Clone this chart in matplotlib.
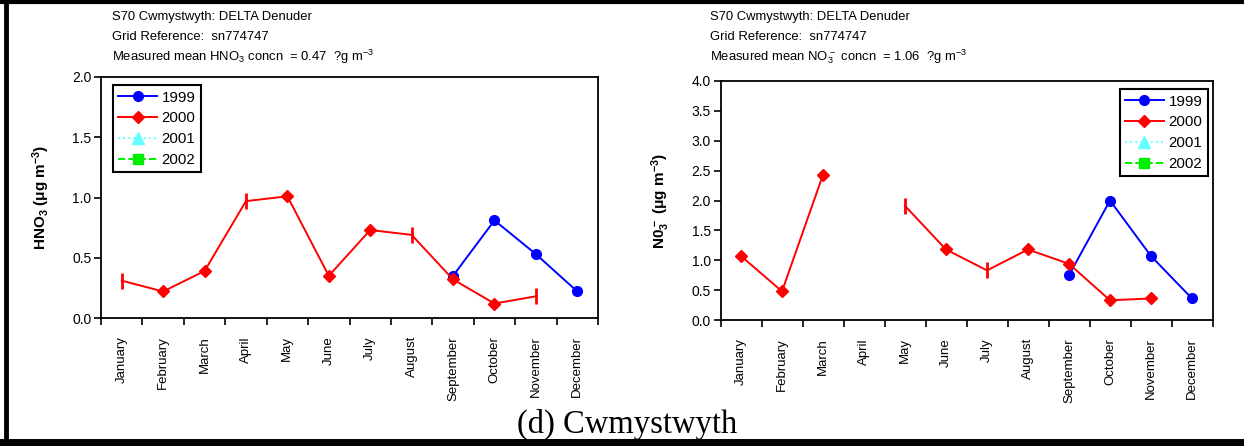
import numpy as np
import matplotlib
matplotlib.use("Agg")
import matplotlib.pyplot as plt
from matplotlib.lines import Line2D

plt.rcParams['font.family'] = ['Liberation Sans', 'DejaVu Sans']
plt.rcParams['mathtext.fontset'] = 'custom'
plt.rcParams['mathtext.rm'] = 'Liberation Sans'
plt.rcParams['mathtext.it'] = 'Liberation Sans:italic'
plt.rcParams['mathtext.bf'] = 'Liberation Sans:bold'
plt.rcParams['mathtext.default'] = 'regular'

months = ["January", "February", "March", "April", "May", "June", "July",
          "August", "September", "October", "November", "December"]
nan = np.nan
hno3_1999 = [nan, nan, nan, nan, nan, nan, nan, nan, 0.35, 0.81, 0.53, 0.22]
hno3_2000 = [0.31, 0.22, 0.39, 0.97, 1.01, 0.35, 0.73, 0.69, 0.32, 0.12, 0.18, nan]
no3_1999 = [nan, nan, nan, nan, nan, nan, nan, nan, 0.75, 2.00, 1.07, 0.36]
no3_2000 = [1.07, 0.48, 2.43, nan, 1.91, 1.18, 0.83, 1.18, 0.94, 0.33, 0.36, nan]
years = ["1999", "2000", "2001", "2002"]

# months in the 2000 series drawn with a bar-shaped symbol instead of a diamond
hno3_bar_months = ["January", "April", "August", "November"]
no3_bar_months = ["May", "July"]

fig = plt.figure(figsize=(12.44, 4.46), dpi=100)
W, H = 1244, 446

def fx(px):
    return px / W

def fy(py):
    return 1 - py / H

def make_axes(left, right, top, bottom):
    return fig.add_axes([fx(left), fy(bottom), fx(right) - fx(left), fy(top) - fy(bottom)])

def draw(ax, s1999, s2000, bar_months, ymax, ylabel, legend_loc, legend_anchor):
    x = np.arange(len(months)) + 0.5
    a1999 = np.array(s1999, float)
    a2000 = np.array(s2000, float)
    ax.plot(x, a1999, color='#0000FF', lw=1.4, marker='o', ms=7, zorder=3)
    ax.plot(x, a2000, color='#FF0000', lw=1.4, zorder=3)
    bar_idx = [months.index(m) for m in bar_months]
    dia_idx = [i for i in range(len(months)) if i not in bar_idx and not np.isnan(a2000[i])]
    ax.plot(x[dia_idx], a2000[dia_idx], ls='none', color='#FF0000', marker='D', ms=6, zorder=4)
    ax.plot(x[bar_idx], a2000[bar_idx], ls='none', color='#FF0000', marker='|', ms=11, mew=2, zorder=4)
    ax.set_xlim(0, 12)
    ax.set_ylim(0, ymax)
    ax.set_yticks(np.arange(0, ymax + 0.01, 0.5))
    ax.set_yticklabels([f"{v:.1f}" for v in np.arange(0, ymax + 0.01, 0.5)], fontsize=10)
    ax.set_xticks(np.arange(0, 13))
    ax.set_xticklabels([])
    ax.set_xticks(x, minor=True)
    ax.set_xticklabels(months, minor=True, rotation=90, fontsize=9.5, va='top')
    ax.tick_params(axis='x', which='minor', length=0, pad=13)
    ax.tick_params(axis='x', which='major', direction='out', length=5, width=1.2)
    ax.tick_params(axis='y', direction='out', length=5, width=1.2, pad=2)
    for sp in ax.spines.values():
        sp.set_linewidth(1.3)
    ax.set_ylabel(ylabel, fontsize=11, fontweight='bold', labelpad=14)
    handles = [
        Line2D([], [], color='#0000FF', lw=1.4, marker='o', ms=7),
        Line2D([], [], color='#FF0000', lw=1.4, marker='D', ms=6),
        Line2D([], [], color='#66FFFF', lw=1.4, ls=':', marker='^', ms=8),
        Line2D([], [], color='#00EE00', lw=1.4, ls='--', marker='s', ms=7),
    ]
    leg = ax.legend(handles, years, loc=legend_loc, bbox_to_anchor=legend_anchor,
                    fontsize=10.8, handlelength=2.6, handletextpad=0.3,
                    labelspacing=0.45, borderpad=0.35, fancybox=False,
                    framealpha=1, edgecolor='black', borderaxespad=0)
    leg.get_frame().set_linewidth(1.5)

ax1 = make_axes(101, 598, 77, 318)
draw(ax1, hno3_1999, hno3_2000, hno3_bar_months, 2.0,
     r"HNO$_\mathbf{3}$ (μg m$^\mathbf{-3}$)", 'upper left', (0.024, 0.965))

ax2 = make_axes(720.5, 1212.5, 81, 320)
draw(ax2, no3_1999, no3_2000, no3_bar_months, 4.0,
     r"N0$_\mathbf{3}^{\,-}$ (μg m$^\mathbf{-3}$)", 'upper right', (0.99, 0.965))

hdr_kw = dict(fontsize=9.4, ha='left', va='center')
fig.text(fx(112), fy(17), "S70 Cwmystwyth: DELTA Denuder", **hdr_kw)
fig.text(fx(112), fy(37), "Grid Reference:  sn774747", **hdr_kw)
fig.text(fx(112), fy(57), r"Measured mean HNO$_3$ concn  = 0.47  ?g m$^{-3}$", **hdr_kw)
fig.text(fx(710), fy(17), "S70 Cwmystwyth: DELTA Denuder", **hdr_kw)
fig.text(fx(710), fy(37), "Grid Reference:  sn774747", **hdr_kw)
fig.text(fx(710), fy(57), r"Measured mean NO$_3^{\,-}$ concn  = 1.06  ?g m$^{-3}$", **hdr_kw)

fig.text(fx(627), fy(424), "(d) Cwmystwyth", fontsize=23.5, ha='center', va='center',
         family=['Liberation Serif', 'DejaVu Serif'])

# outer frame
fig.add_artist(Line2D([fx(6), fx(6)], [fy(0), fy(446)], color='black', lw=3.5, transform=fig.transFigure))
fig.add_artist(Line2D([0, 1], [fy(1.5), fy(1.5)], color='black', lw=3, transform=fig.transFigure))
fig.add_artist(Line2D([0, 1], [fy(442), fy(442)], color='black', lw=5, transform=fig.transFigure))

fig.savefig("out.png", dpi=100)
